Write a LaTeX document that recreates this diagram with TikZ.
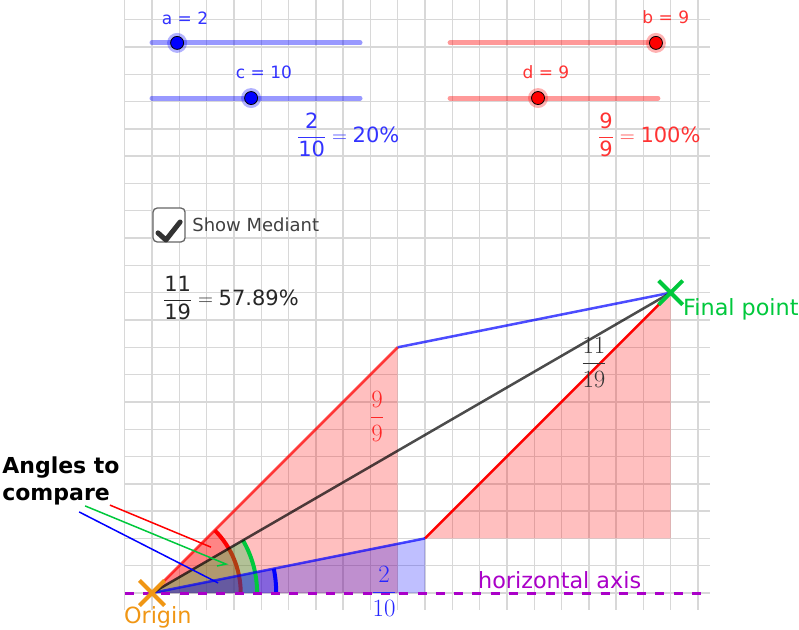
\documentclass[tikz,border=0pt]{standalone}
\usepackage{amsmath,amssymb}
\usepackage{fontspec}
\setsansfont{DejaVu Sans}
\usepackage{color}
\definecolor{ggblue}{RGB}{0,0,255}
\definecolor{ggred}{RGB}{255,0,0}
\definecolor{gggreen}{RGB}{0,200,60}
\definecolor{ggorange}{RGB}{240,150,20}
\definecolor{ggpurple}{RGB}{170,0,200}
\definecolor{gggrid}{RGB}{216,216,216}

\begin{document}
\begin{tikzpicture}[x=27.3pt, y=27.3pt,
    slidertext/.style={font=\sffamily\fontsize{17}{20}\selectfont, inner sep=0pt},
    ggtext/.style={font=\sffamily\fontsize{21}{24}\selectfont, inner sep=0pt, anchor=west},
    bigfrac/.style={font=\fontsize{24}{28}\selectfont, inner sep=0pt},
    label/.style={font=\sffamily\fontsize{22.3}{26}\selectfont, inner sep=0pt, anchor=base west}]
  \useasboundingbox (-152pt,-36pt) rectangle (647pt,593pt);
  % grid
  \foreach \x in {-1,...,20}{
      \draw[gggrid, line width=1.4pt] (\x,-0.62) -- (\x,21.72);
  }
  \foreach \y in {0,...,21}{
      \draw[gggrid, line width=1.4pt] (-1,\y) -- (20.44,\y);
  }
  % sliders
  \foreach \y/\x/\col in {20.15/0.92/ggblue, 18.13/3.63/ggblue}{
      \draw[\col, opacity=0.4, line width=5pt, line cap=round] (0,\y) -- (7.62,\y);
      \fill[\col, opacity=0.3] (\x,\y) circle (10pt);
      \filldraw[fill=\col, draw=black, line width=0.8pt] (\x,\y) circle (6.5pt);
  }
  \foreach \y/\x/\col in {20.15/18.46/ggred, 18.13/14.14/ggred}{
      \draw[\col, opacity=0.4, line width=5pt, line cap=round] (10.92,\y) -- (18.53,\y);
      \fill[\col, opacity=0.3] (\x,\y) circle (10pt);
      \filldraw[fill=\col, draw=black, line width=0.8pt] (\x,\y) circle (6.5pt);
  }
  \node[slidertext, text=ggblue!80!white] (sa) at (1.21,21.06) {a = 2};
  \node[slidertext, text=ggblue!80!white] (sc) at (4.10,19.08) {c = 10};
  \node[slidertext, text=ggred!80!white] (sb) at (18.82,21.08) {b = 9};
  \node[slidertext, text=ggred!80!white] (sd) at (14.43,19.08) {d = 9};
  \node[ggtext, text=ggblue!80!white] (fracac) at (5.31,16.78)
      {$\dfrac{\text{2}}{\text{10}} = \text{20\%}$};
  \node[ggtext, text=ggred!80!white] (fracbd) at (16.34,16.78)
      {$\dfrac{\text{9}}{\text{9}} = \text{100\%}$};
  % checkbox
  \draw[black!60, line width=1.3pt, fill=white, rounded corners=4pt] (0.04,12.86) rectangle (1.21,14.10);
  \draw[black!80, line width=5pt, line cap=round, line join=round] (0.22,13.19) -- (0.51,12.93) -- (1.03,13.59);
  \node[font=\sffamily\fontsize{18}{22}\selectfont, text=black!75, inner sep=0pt, anchor=west] (show) at (1.47,13.48) {Show Mediant};
  \node[ggtext, text=black!85] (fracmed) at (0.40,10.80)
      {$\dfrac{\text{11}}{\text{19}} = \text{57.89\%}$};
  % points
  \coordinate (O) at (0,0);
  \coordinate (C) at (10,2);
  \coordinate (B) at (9,9);
  \coordinate (F) at (19,11);
  % triangles
  \fill[ggred, opacity=0.25] (O) -- (9,0) -- (B) -- cycle;
  \fill[ggred, opacity=0.25] (C) -- (19,2) -- (F) -- cycle;
  \fill[ggblue, opacity=0.25] (O) -- (10,0) -- (C) -- cycle;
  % angles
  \fill[ggred, opacity=0.3] (O) -- (3.25,0) arc[start angle=0, end angle=45, radius=3.25] -- cycle;
  \draw[ggred, line width=4pt] (3.25,0) arc[start angle=0, end angle=45, radius=3.25];
  \fill[gggreen, opacity=0.3] (O) -- (3.85,0) arc[start angle=0, end angle=30.07, radius=3.85] -- cycle;
  \fill[ggblue, opacity=0.3] (O) -- (4.55,0) arc[start angle=0, end angle=11.31, radius=4.55] -- cycle;
  \draw[gggreen, line width=4pt] (3.85,0) arc[start angle=0, end angle=30.07, radius=3.85];
  \draw[ggblue, line width=4pt] (4.55,0) arc[start angle=0, end angle=11.31, radius=4.55];
  % paths
  \draw[ggred, opacity=0.75, line width=2.5pt] (O) -- (B);
  \draw[ggred, line width=2.5pt] (C) -- (F);
  \draw[ggblue, opacity=0.7, line width=2.5pt] (O) -- (C);
  \draw[ggblue, opacity=0.7, line width=2.5pt] (B) -- (F);
  \draw[black, opacity=0.7, line width=2.5pt] (O) -- (F);
  % horizontal axis
  \draw[ggpurple, line width=3pt, dash pattern=on 9pt off 9.3pt] (-1,0) -- (20.44,0);
  % fractions
  \node[bigfrac, text=ggred!85!white] (frac99) at (8.24,6.48) {$\dfrac{9}{9}$};
  \node[bigfrac, text=ggblue!85!white] (frac210) at (8.50,0.07) {$\dfrac{2}{10}$};
  \node[bigfrac, text=black!80] (frac1119) at (16.19,8.46) {$\dfrac{11}{19}$};
  % marks
  \draw[ggorange, line width=4pt] (O) +(-0.46,-0.46) -- +(0.46,0.46) (O) +(-0.46,0.46) -- +(0.46,-0.46);
  \draw[gggreen, line width=4pt] (F) +(-0.44,-0.44) -- +(0.44,0.44) (F) +(-0.44,0.44) -- +(0.44,-0.44);
  \node[label, text=gggreen] (final) at (19.45,10.18) {Final point};
  \node[label, text=ggpurple] (axis) at (11.94,0.18) {horizontal axis};
  \node[label, text=ggorange] (origin) at (-1.03,-1.10) {Origin};
  % pointers
  \node[font=\sffamily\bfseries\fontsize{22}{27}\selectfont, align=left, inner sep=0pt, anchor=north west] (angles) at (-5.49,4.98) {Angles to\\compare};
  \coordinate (redtip) at (2.16,1.68);
  \coordinate (greentip) at (2.71,1.06);
  \coordinate (bluetip) at (2.42,0.37);
  \draw[ggred, line width=1.5pt] (-1.54,3.22) -- (redtip);
  \draw[gggreen, line width=1.5pt] (-2.45,3.19) -- (greentip) -- (2.38,0.99);
  \draw[ggblue, line width=1.5pt] (-2.67,2.97) -- (bluetip);
\end{tikzpicture}
\end{document}
